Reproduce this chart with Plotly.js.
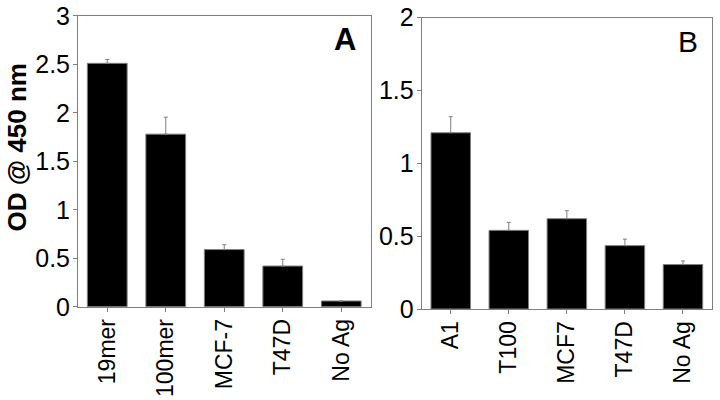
<!DOCTYPE html>
<html>
<head>
<meta charset="utf-8">
<script src="https://cdn.plot.ly/plotly-3.0.1.min.js"></script>
<style>html,body{margin:0;padding:0;background:#fff;}#chart{width:720px;height:400px;}</style>
</head>
<body>
<div id="chart"></div>
<script>
// Panel A
const catsA = ["19mer", "100mer", "MCF-7", "T47D", "No Ag"];
const valsA = [2.51, 1.78, 0.59, 0.42, 0.06];
const errA  = [0.04, 0.175, 0.05, 0.07, 0];
// Panel B
const catsB = ["A1", "T100", "MCF7", "T47D", "No Ag"];
const valsB = [1.21, 0.54, 0.62, 0.435, 0.305];
const errB  = [0.11, 0.055, 0.055, 0.045, 0.025];

const ticksA = [0, 0.5, 1, 1.5, 2, 2.5, 3];
const ticksB = [0, 0.5, 1, 1.5, 2];
const tickTextA = ["0", "0.5", "1", "1.5", "2", "2.5", "3"];
const tickTextB = ["0", "0.5", "1", "1.5", "2"];

const FONT = "Liberation Sans, Arial, Helvetica, sans-serif";
const GRAY = "#7f7f7f";

function barTrace(x, y, e, xa, ya) {
  return {
    type: "bar", x: x, y: y, xaxis: xa, yaxis: ya,
    width: 0.68,
    marker: { color: "#000", line: { color: GRAY, width: 1 } },
    error_y: { type: "data", symmetric: false, array: e, arrayminus: e.map(() => 0),
               color: GRAY, thickness: 1, width: 2 },
    showlegend: false, hoverinfo: "skip"
  };
}

const xCommon = {
  showline: true, linecolor: GRAY, linewidth: 1, mirror: true,
  ticks: "outside", ticklen: 4, tickcolor: GRAY, tickangle: -90, ticklabelstandoff: -2,
  tickfont: { family: FONT, size: 23, color: "#000" },
  showgrid: false, zeroline: false, automargin: false, range: [-0.5, 4.5], fixedrange: true
};
const yCommon = {
  showline: true, linecolor: GRAY, linewidth: 1, mirror: true,
  ticks: "outside", ticklen: 4, tickcolor: GRAY, ticklabelstandoff: -2,
  tickfont: { family: FONT, size: 25, color: "#000" },
  showgrid: false, zeroline: false, automargin: false, fixedrange: true
};

const layout = {
  width: 720, height: 400,
  margin: { l: 0, r: 0, t: 0, b: 0 },
  paper_bgcolor: "#fff", plot_bgcolor: "#fff",
  xaxis: Object.assign({}, xCommon, { domain: [78/720, 370.5/720], anchor: "y" }),
  yaxis: Object.assign({}, yCommon, {
    domain: [1 - 306.8/400, 1 - 15.8/400], anchor: "x", range: [0, 3],
    tickvals: ticksA, ticktext: tickTextA
  }),
  xaxis2: Object.assign({}, xCommon, { domain: [421.7/720, 712/720], anchor: "y2" }),
  yaxis2: Object.assign({}, yCommon, {
    domain: [1 - 309/400, 1 - 17.7/400], anchor: "x2", range: [0, 2],
    tickvals: ticksB, ticktext: tickTextB
  }),
  annotations: [
    { text: "<b>OD @ 450 nm</b>", xref: "paper", yref: "paper", x: 16.5/720, y: 1 - 148/400,
      xanchor: "center", yanchor: "middle", textangle: -90, showarrow: false,
      font: { family: FONT, size: 26, color: "#000" } },
    { text: "<b>A</b>", xref: "paper", yref: "paper", x: 357.5/720, y: 1 - 40/400,
      xanchor: "right", yanchor: "middle", showarrow: false,
      font: { family: FONT, size: 31, color: "#000" } },
    { text: "B", xref: "paper", yref: "paper", x: 700/720, y: 1 - 41/400,
      xanchor: "right", yanchor: "middle", showarrow: false,
      font: { family: FONT, size: 30, color: "#000" } }
  ]
};

Plotly.newPlot("chart", [
  barTrace(catsA, valsA, errA, "x", "y"),
  barTrace(catsB, valsB, errB, "x2", "y2")
], layout, { staticPlot: true, displayModeBar: false });
</script>
</body>
</html>
